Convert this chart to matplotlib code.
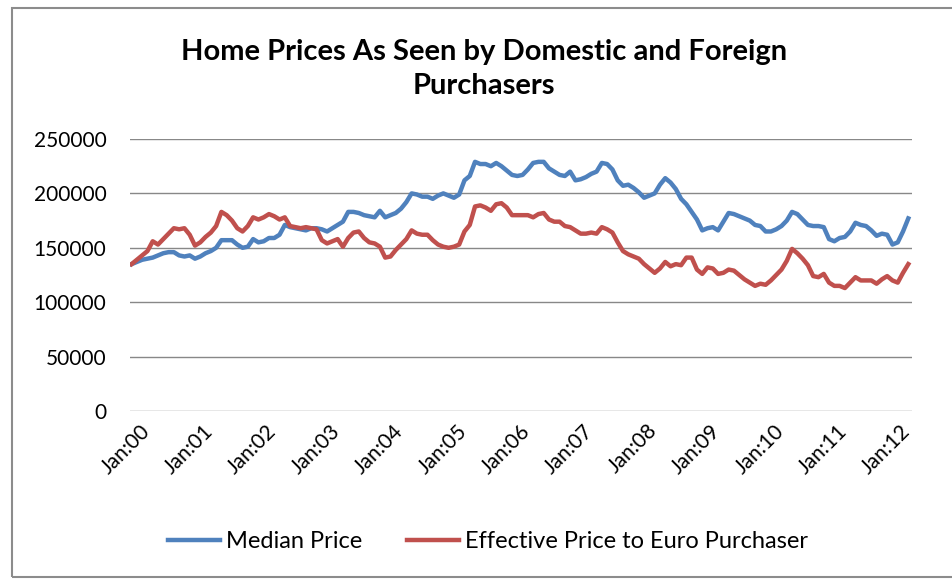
"""Home prices as seen by domestic and foreign purchasers
"""
import numpy as np
import matplotlib
matplotlib.use("Agg")
import matplotlib.pyplot as plt
from matplotlib.patches import Rectangle
from matplotlib.transforms import ScaledTranslation

# monthly values, Jan 2000 .. Apr 2012
median_price = [
    135000, 137000, 139000, 140000, 141000, 143000, 145000, 146000, 146000, 143000, 142000, 143000,
    140000, 142000, 145000, 147000, 150000, 157000, 157000, 157000, 153000, 150000, 151000, 158000,
    155000, 156000, 159000, 159000, 162000, 171000, 169000, 168000, 167000, 166000, 168000, 168000,
    167000, 165000, 168000, 171000, 174000, 183000, 183000, 182000, 180000, 179000, 178000, 184000,
    178000, 180000, 182000, 186000, 192000, 200000, 199000, 197000, 197000, 195000, 198000, 200000,
    198000, 196000, 199000, 212000, 216000, 229000, 227000, 227000, 225000, 228000, 225000, 221000,
    217000, 216000, 217000, 222000, 228000, 229000, 229000, 223000, 220000, 217000, 216000, 220000,
    212000, 213000, 215000, 218000, 220000, 228000, 227000, 222000, 212000, 207000, 208000, 205000,
    201000, 196000, 198000, 200000, 208000, 214000, 210000, 204000, 195000, 190000, 183000, 176000,
    166000, 168000, 169000, 166000, 174000, 182000, 181000, 179000, 177000, 175000, 171000, 170000,
    165000, 165000, 167000, 170000, 175000, 183000, 181000, 176000, 171000, 170000, 170000, 169000,
    158000, 156000, 159000, 160000, 165000, 173000, 171000, 170000, 166000, 161000, 163000, 162000,
    153000, 155000, 165000, 177000,
]
euro_price = [
    135000, 139000, 143000, 147000, 156000, 153000, 158000, 163000, 168000, 167000, 168000, 162000,
    152000, 155000, 160000, 164000, 170000, 183000, 180000, 175000, 168000, 165000, 170000, 178000,
    176000, 178000, 181000, 179000, 176000, 178000, 170000, 169000, 168000, 169000, 168000, 167000,
    157000, 154000, 156000, 158000, 151000, 159000, 164000, 165000, 159000, 155000, 154000, 151000,
    141000, 142000, 148000, 153000, 158000, 166000, 163000, 162000, 162000, 157000, 153000, 151000,
    150000, 151000, 153000, 165000, 171000, 188000, 189000, 187000, 184000, 190000, 191000, 187000,
    180000, 180000, 180000, 180000, 178000, 181000, 182000, 176000, 174000, 174000, 170000, 169000,
    166000, 163000, 163000, 164000, 163000, 169000, 167000, 164000, 155000, 147000, 144000, 142000,
    140000, 135000, 131000, 127000, 131000, 137000, 133000, 135000, 134000, 141000, 141000, 130000,
    126000, 132000, 131000, 126000, 127000, 130000, 129000, 125000, 121000, 118000, 115000, 117000,
    116000, 120000, 125000, 130000, 138000, 149000, 145000, 140000, 134000, 124000, 123000, 126000,
    118000, 115000, 115000, 113000, 118000, 123000, 120000, 120000, 120000, 117000, 121000, 124000,
    120000, 118000, 127000, 135000,
]
tick_labels = ["Jan:%02d" % y for y in range(13)]

plt.rcParams["font.family"] = ["Lato", "DejaVu Sans"]

fig = plt.figure(figsize=(9.52, 5.79), dpi=100)
fig.patches.append(Rectangle((12 / 952, 2 / 579), 960 / 952, 569 / 579,
                             transform=fig.transFigure, fill=False,
                             edgecolor="#8c8c8c", linewidth=1.5))

ax = fig.add_axes([130 / 952, 1 - 411 / 579, 782 / 952, 272 / 579])
months = np.arange(len(median_price))
ax.plot(months, median_price, color="#4F81BD", lw=3.2, label="Median Price")
ax.plot(months, euro_price, color="#C0504D", lw=3.2, label="Effective Price to Euro Purchaser")

ax.set_ylim(0, 250000)
ax.set_yticks(np.arange(0, 250001, 50000))
ax.set_xlim(-0.3, len(median_price) - 0.3)
ax.set_xticks(np.arange(0, len(median_price), 12))
ax.set_xticklabels(tick_labels, rotation=45, ha="right", rotation_mode="anchor")
ax.tick_params(axis="both", length=0, labelsize=15, colors="black")
ax.tick_params(axis="y", pad=17)
ax.tick_params(axis="x", pad=7)
for lab in ax.get_xticklabels():
    lab.set_transform(lab.get_transform() + ScaledTranslation(0.08, 0, fig.dpi_scale_trans))
ax.grid(axis="y", color="#888888", lw=1)
ax.set_axisbelow(True)
for s in ax.spines.values():
    s.set_visible(False)

fig.text(484 / 952, 1 - 69 / 579, "Home Prices As Seen by Domestic and Foreign\nPurchasers",
         ha="center", va="center", fontsize=21, fontweight="bold", linespacing=1.35)

fig.legend(loc="center", bbox_to_anchor=(488 / 952, 1 - 542 / 579), ncol=2,
           frameon=False, fontsize=17, handlelength=2.2, columnspacing=1.9,
           handletextpad=0.25)

plt.savefig("out.png", dpi=100)
